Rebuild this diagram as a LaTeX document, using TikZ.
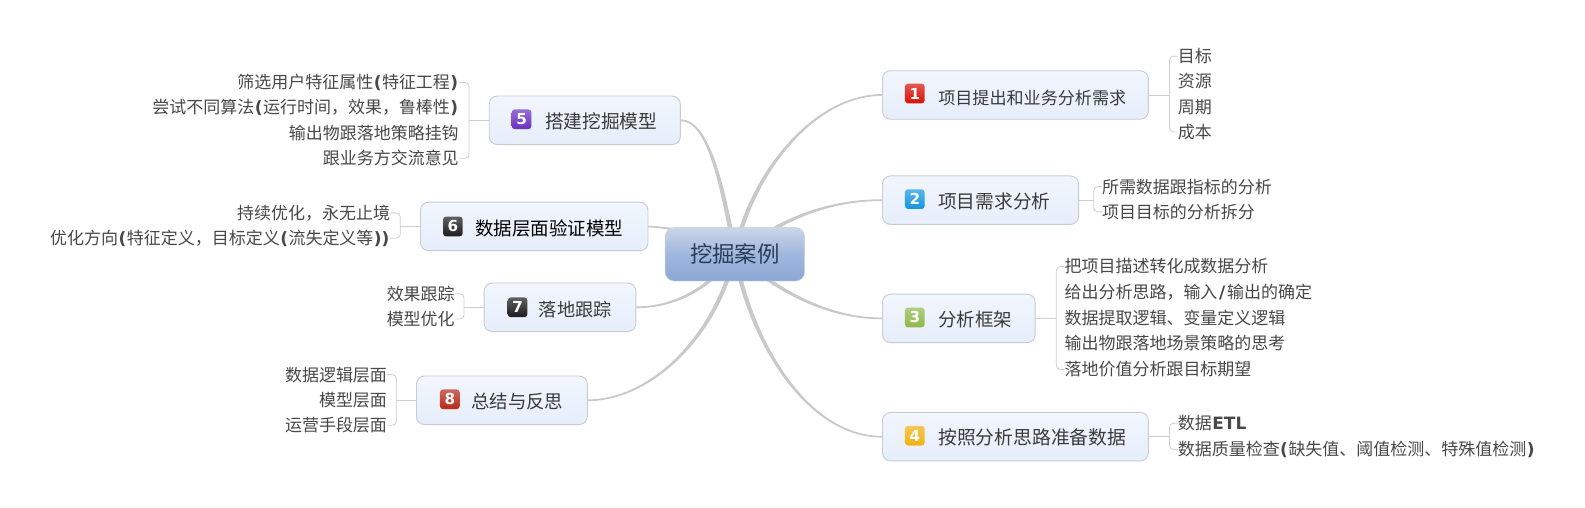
\documentclass[tikz,border=0pt]{standalone}
\usepackage{fontspec}
\setmainfont{Noto Sans CJK SC}
\newfontfamily\latfont{DejaVu Sans}
\newcommand{\LB}[1]{\kern0.5pt{\latfont\bfseries #1}\kern0.5pt}
\definecolor{linec}{HTML}{C9C9C9}
\definecolor{leafc}{HTML}{CFCFCF}
\definecolor{txt}{HTML}{484848}
\definecolor{boxb}{HTML}{C5CCD7}
\definecolor{boxT}{HTML}{F2F6FD}
\definecolor{boxB}{HTML}{E6EEFA}
\definecolor{rootd}{HTML}{C9D3E3}
\definecolor{rootT}{HTML}{CBD6E9}
\definecolor{rootM}{HTML}{A0B7DD}
\definecolor{rootB}{HTML}{8CA8D5}
\definecolor{rootx}{HTML}{2C3C58}
\definecolor{boxt}{HTML}{3A3A3A}
\definecolor{ired}{HTML}{D81008}
\definecolor{iblue}{HTML}{1296E0}
\definecolor{igreen}{HTML}{8DB84A}
\definecolor{iyellow}{HTML}{F2B010}
\definecolor{ipurple}{HTML}{6A2FC0}
\definecolor{iblack}{HTML}{1C1C1C}
\definecolor{idred}{HTML}{B8281A}
\pgfdeclarelayer{under}
\pgfsetlayers{under,main}
\newcommand{\branchto}[4]{%
  \draw[branch] ([#4=-1.4pt]root.center) .. controls +#2 and +#3 .. (#1)
     .. controls +#3 and +#2 .. ([#4=1.4pt]root.center) -- cycle;}
\tikzset{
  x=1pt,y=-1pt,
  box/.style={draw=boxb,line width=0.9pt,rounded corners=8pt,inner sep=0pt,minimum height=48pt,
     top color=boxT,bottom color=boxB},
  rootbox/.style={draw=rootd,rounded corners=9pt,inner sep=0pt,minimum width=138pt,minimum height=53pt,
     top color=rootT,bottom color=rootB,middle color=rootM,font=\fontsize{22.2}{24}\selectfont,text=rootx},
  boxtext/.style={anchor=west,inner sep=0pt,text=boxt,font=\fontsize{#1}{20}\selectfont},
  boxtext/.default={16.9},
  leafR/.style={anchor=west,inner sep=0pt,yshift=-0.6pt,text=txt,font=\fontsize{16.8}{20}\selectfont},
  leafL/.style={anchor=east,inner sep=0pt,yshift=-0.6pt,text=txt,font=\fontsize{16.8}{20}\selectfont},
  icon/.style={rounded corners=3pt,minimum size=19.5pt,inner sep=0pt,text=white,font=\latfont\bfseries\fontsize{15}{15}\selectfont,top color=#1!70!white,bottom color=#1},
  branch/.style={draw=linec,fill=linec,line width=1.7pt,line join=round},
  leafline/.style={draw=leafc,line width=0.8pt,rounded corners=4pt},
  stemline/.style={draw=leafc,line width=0.8pt},
}
\begin{document}
\begin{tikzpicture}
\begin{pgfonlayer}{under}
\useasboundingbox[fill=white] (0,0) rectangle (1568,502.5);
\end{pgfonlayer}
% boxes
\node[rootbox] (root) at (727,251.5) {挖掘案例};
\node[box,minimum width=263pt] (n1) at (1004.5,94) {};
\node[box,minimum width=194pt] (n2) at (970,198) {};
\node[box,minimum width=151pt] (n3) at (948.5,315) {};
\node[box,minimum width=263pt] (n4) at (1004.5,432) {};
\node[box,minimum width=189pt] (n5) at (578.5,119) {};
\node[box,minimum width=225pt] (n6) at (528.5,224) {};
\node[box,minimum width=150pt] (n7) at (554,304) {};
\node[box,minimum width=169pt] (n8) at (496.5,396) {};
% branches
\begin{pgfonlayer}{under}
\branchto{n1.west}{(14,-75)}{(-70,0)}{xshift}
\branchto{n2.west}{(40,-30)}{(-60,0)}{yshift}
\branchto{n3.west}{(35,30)}{(-60,0)}{yshift}
\branchto{n4.west}{(15,85)}{(-75,0)}{xshift}
\branchto{n5.east}{(-14,-80)}{(25,0)}{xshift}
\branchto{n6.east}{(-40,-20)}{(40,3)}{yshift}
\branchto{n7.east}{(-20,27)}{(45,0)}{yshift}
\branchto{n8.east}{(-20,85)}{(60,0)}{xshift}
\end{pgfonlayer}
% icons
\node[icon=ired] (i1) at (905,92.5) {1};
\node[icon=iblue] (i2) at (905,197) {2};
\node[icon=igreen] (i3) at (905,314) {3};
\node[icon=iyellow] (i4) at (905,431) {4};
\node[icon=ipurple] (i5) at (516,118) {5};
\node[icon=iblack] (i6) at (448,224) {6};
\node[icon=iblack] (i7) at (512,304) {7};
\node[icon=idred] (i8) at (445,395) {8};
% box text
\node[boxtext] (t1) at (928,97) {项目提出和业务分析需求};
\node[boxtext=18.5] (t2) at (928,199) {项目需求分析};
\node[boxtext=18.2] (t3) at (928,316) {分析框架};
\node[boxtext=18.6] (t4) at (928,433) {按照分析思路准备数据};
\node[boxtext=18.5] (t5) at (539,120) {搭建挖掘模型};
\node[boxtext=18.3] (t6) at (470,226) {\textcolor{black}{数据层面验证模型}};
\node[boxtext=18] (t7) at (533,306) {落地跟踪};
\node[boxtext=18.2] (t8) at (466,397) {总结与反思};
% leaves right
\node[leafR] (a1) at (1165,55) {目标};
\node[leafR] (a2) at (1165,80) {资源};
\node[leafR] (a3) at (1165,105) {周期};
\node[leafR] (a4) at (1165,130) {成本};
\node[leafR] (b1) at (1090,184) {所需数据跟指标的分析};
\node[leafR] (b2) at (1090,209) {项目目标的分析拆分};
\node[leafR] (c1) at (1053,263) {把项目描述转化成数据分析};
\node[leafR] (c2) at (1053,288) {给出分析思路，输入\kern1.2pt\LB{/}\kern1.2pt输出的确定};
\node[leafR] (c3) at (1053,314) {数据提取逻辑、变量定义逻辑};
\node[leafR] (c4) at (1053,339) {输出物跟落地场景策略的思考};
\node[leafR] (c5) at (1053,365) {落地价值分析跟目标期望};
\node[leafR] (d1) at (1165,418) {数据\LB{ETL}};
\node[leafR] (d2) at (1165,444) {数据质量检查\LB{(}缺失值、阈值检测、特殊值检测\LB{)}};
% leaves left
\node[leafL] (e1) at (454,81) {筛选用户特征属性\LB{(}特征工程\LB{)}};
\node[leafL] (e2) at (454,106) {尝试不同算法\LB{(}运行时间，效果，鲁棒性\LB{)}};
\node[leafL] (e3) at (454,131) {输出物跟落地策略挂钩};
\node[leafL] (e4) at (454,156) {跟业务方交流意见};
\node[leafL] (f1) at (386,210) {持续优化，永无止境};
\node[leafL] (f2) at (386,235) {优化方向\LB{(}特征定义，目标定义\LB{(}流失定义等\LB{))}};
\node[leafL] (g1) at (450,290) {效果跟踪};
\node[leafL] (g2) at (450,315) {模型优化};
\node[leafL] (h1) at (383,370) {数据逻辑层面};
\node[leafL] (h2) at (383,395) {模型层面};
\node[leafL] (h3) at (383,420) {运营手段层面};
% bracket coordinates
\coordinate (ba) at (1157,94);
\coordinate (bb) at (1082,198);
\coordinate (bc) at (1045,315);
\coordinate (bd) at (1157,432);
\coordinate (be) at (464,119);
\coordinate (bf) at (396,224);
\coordinate (bg) at (459,304);
\coordinate (bh) at (392,396);
% stems
\foreach \n/\b in {n1/ba,n2/bb,n3/bc,n4/bd}{\draw[stemline] (\n.east) -- (\b);}
\foreach \n/\b in {n5/be,n6/bf,n7/bg,n8/bh}{\draw[stemline] (\n.west) -- (\b);}
% brackets
\draw[leafline] (a1.west) -| (ba) |- (a4.west);
\draw[leafline] (b1.west) -| (bb) |- (b2.west);
\draw[leafline] (c1.west) -| (bc) |- (c5.west);
\draw[leafline] (d1.west) -| (bd) |- (d2.west);
\draw[leafline] (e1.east) -| (be) |- (e4.east);
\draw[leafline] (f1.east) -| (bf) |- (f2.east);
\draw[leafline] (g1.east) -| (bg) |- (g2.east);
\draw[leafline] (h1.east) -| (bh) |- (h3.east);
\end{tikzpicture}
\end{document}
